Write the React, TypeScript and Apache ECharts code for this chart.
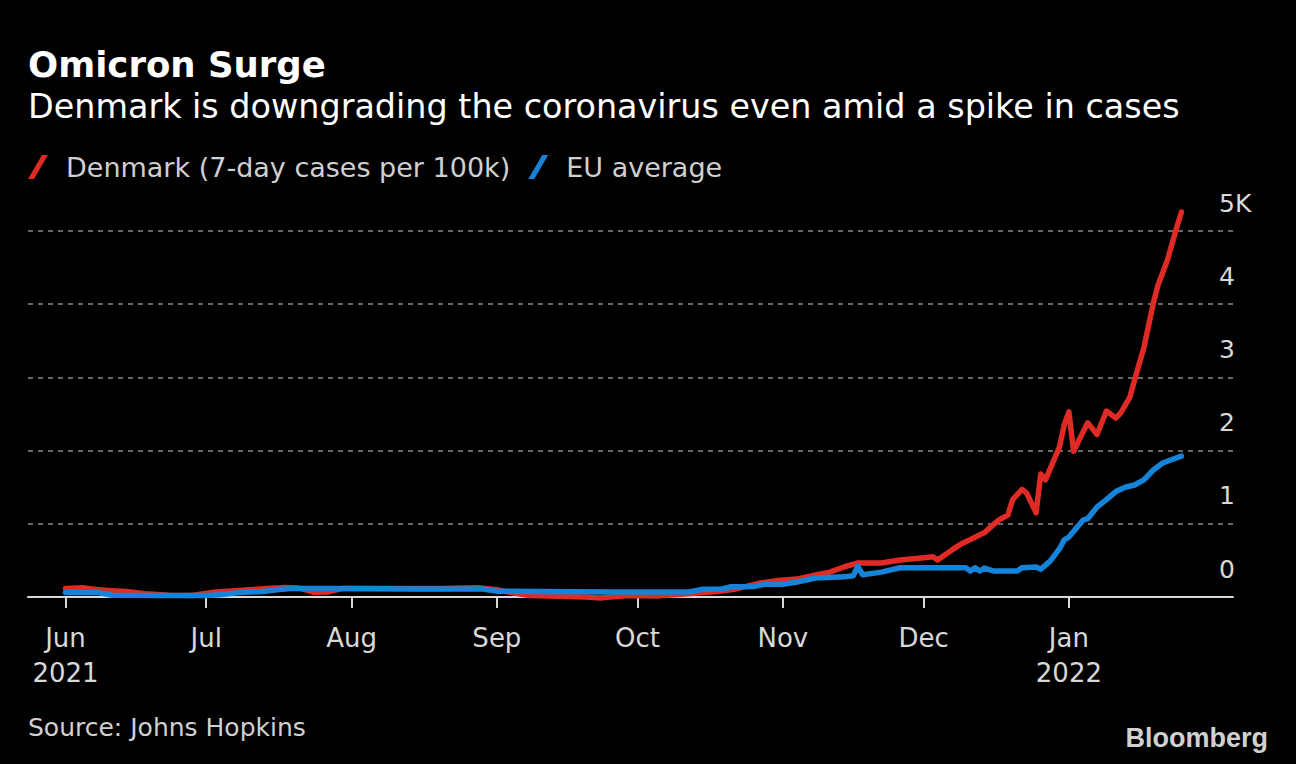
import React, { useEffect, useRef } from "react";
import * as echarts from "echarts";

const startDate = Date.UTC(2021, 4, 24);
const endDate = Date.UTC(2022, 1, 5);
const monthNames = ["Jan", "Feb", "Mar", "Apr", "May", "Jun", "Jul", "Aug", "Sep", "Oct", "Nov", "Dec"];

const pad = (n: number) => (n < 10 ? "0" + n : "" + n);
const categories: string[] = [];
for (let t = startDate; t <= endDate; t += 86400000) {
  const d = new Date(t);
  categories.push(d.getUTCFullYear() + "-" + pad(d.getUTCMonth() + 1) + "-" + pad(d.getUTCDate()));
}

const denmarkDates = [
  "2021-06-01", "2021-06-05", "2021-06-07", "2021-06-10", "2021-06-14", "2021-06-18", "2021-06-23", "2021-06-28",
  "2021-07-03", "2021-07-08", "2021-07-14", "2021-07-18", "2021-07-21", "2021-07-24", "2021-07-27", "2021-07-30",
  "2021-08-10", "2021-08-20", "2021-08-28", "2021-09-01", "2021-09-05", "2021-09-08", "2021-09-14", "2021-09-20",
  "2021-09-23", "2021-09-26", "2021-09-29", "2021-10-05", "2021-10-11", "2021-10-15", "2021-10-18", "2021-10-22",
  "2021-10-27", "2021-10-31", "2021-11-04", "2021-11-08", "2021-11-11", "2021-11-14", "2021-11-17", "2021-11-22",
  "2021-11-26", "2021-11-30", "2021-12-03", "2021-12-04", "2021-12-07", "2021-12-09", "2021-12-11", "2021-12-14",
  "2021-12-17", "2021-12-19", "2021-12-20", "2021-12-22", "2021-12-23", "2021-12-25", "2021-12-26", "2021-12-27",
  "2021-12-30", "2021-12-31", "2022-01-01", "2022-01-02", "2022-01-04", "2022-01-05", "2022-01-07", "2022-01-09",
  "2022-01-11", "2022-01-12", "2022-01-14", "2022-01-15", "2022-01-17", "2022-01-19", "2022-01-20", "2022-01-22",
  "2022-01-24", "2022-01-25",
];
const denmarkValues = [
  115, 125, 105, 90, 75, 45, 25, 20,
  70, 90, 115, 130, 120, 65, 70, 115,
  115, 115, 125, 100, 50, 20, 10, 0,
  -15, 5, 20, 15, 40, 60, 75, 110,
  190, 225, 245, 300, 340, 410, 465, 465,
  505, 530, 550, 505, 640, 725, 785, 880,
  1050, 1120, 1330, 1470, 1420, 1150, 1680, 1600,
  2050, 2350, 2530, 1990, 2250, 2380, 2220, 2540,
  2445, 2510, 2730, 2960, 3410, 4010, 4260, 4600,
  5050, 5260,
];

const euDates = [
  "2021-06-01", "2021-06-08", "2021-06-11", "2021-06-20", "2021-07-01", "2021-07-04", "2021-07-08", "2021-07-13",
  "2021-07-16", "2021-07-19", "2021-08-01", "2021-08-15", "2021-08-29", "2021-09-01", "2021-09-10", "2021-09-25",
  "2021-10-12", "2021-10-15", "2021-10-19", "2021-10-21", "2021-10-26", "2021-10-28", "2021-11-01", "2021-11-04",
  "2021-11-08", "2021-11-14", "2021-11-16", "2021-11-17", "2021-11-18", "2021-11-22", "2021-11-26", "2021-12-10",
  "2021-12-11", "2021-12-12", "2021-12-13", "2021-12-14", "2021-12-16", "2021-12-21", "2021-12-22", "2021-12-25",
  "2021-12-26", "2021-12-28", "2021-12-30", "2021-12-31", "2022-01-01", "2022-01-04", "2022-01-05", "2022-01-07",
  "2022-01-09", "2022-01-11", "2022-01-13", "2022-01-15", "2022-01-17", "2022-01-19", "2022-01-21", "2022-01-25",
];
const euValues = [
  60, 60, 25, 20, 20, 30, 60, 75,
  100, 115, 115, 110, 110, 80, 75, 70,
  70, 105, 110, 140, 145, 175, 175, 205,
  260, 275, 290, 420, 305, 340, 400, 400,
  355, 400, 355, 395, 355, 355, 400, 410,
  380, 490, 660, 780, 820, 1050, 1070, 1230,
  1330, 1440, 1500, 1530, 1600, 1735, 1830, 1925,
];

const yTicks = [0, 1000, 2000, 3000, 4000, 5000];
const yTickLabels = ["0", "1", "2", "3", "4", "5K"];

const seriesNames = ["Denmark (7-day cases per 100k)", "EU average"];
const seriesColors = ["#e02a26", "#1584d8"];

const FONT = "DejaVu Sans";

export default function App() {
  const ref = useRef<HTMLDivElement>(null);
  useEffect(() => {
    if (!ref.current) return;
    const chart = echarts.init(ref.current, undefined, { renderer: "svg" });
    const isMonthStart = (_i: number, v: string) => v.slice(8) === "01" && v.slice(5, 7) !== "02";
    const option: any = {
      animation: false,
      backgroundColor: "#000000",
      title: [
        {
          text: "Omicron Surge",
          left: 28,
          top: 44,
          padding: 0,
          textStyle: { color: "#ffffff", fontFamily: FONT, fontWeight: "bold", fontSize: 35.5, lineHeight: 40 },
        },
        {
          text: "Denmark is downgrading the coronavirus even amid a spike in cases",
          left: 28,
          top: 88,
          padding: 0,
          textStyle: { color: "#ffffff", fontFamily: FONT, fontWeight: "normal", fontSize: 33.4, lineHeight: 36 },
        },
        {
          text: "Source: Johns Hopkins",
          left: 28,
          top: 713,
          padding: 0,
          textStyle: { color: "#d0d0d0", fontFamily: FONT, fontWeight: "normal", fontSize: 25, lineHeight: 28 },
        },
        {
          text: "Bloomberg",
          right: 28,
          top: 723,
          padding: 0,
          textStyle: { color: "#d0d0d0", fontFamily: "Liberation Sans", fontWeight: "bold", fontSize: 27, lineHeight: 30 },
        },
      ],
      legend: {
        left: 28,
        top: 153,
        padding: 0,
        itemWidth: 20,
        itemHeight: 24,
        itemGap: 18,
        icon: "path://M14,0 L20,0 L6,24 L0,24 Z",
        data: seriesNames,
        textStyle: { color: "#cfcfcf", fontFamily: FONT, fontSize: 27, lineHeight: 28, padding: [0, 0, 0, 13] },
      },
      grid: { left: 28, right: 63, top: 231, bottom: 167, containLabel: false },
      xAxis: {
        type: "category",
        data: categories,
        boundaryGap: false,
        axisLine: { show: true, lineStyle: { color: "#d8d8d8", width: 2 } },
        axisTick: { show: true, interval: isMonthStart, length: 11, lineStyle: { color: "#d8d8d8", width: 2 } },
        axisLabel: {
          interval: isMonthStart,
          margin: 23,
          color: "#d8d8d8",
          fontFamily: FONT,
          fontSize: 26,
          lineHeight: 35,
          formatter: (v: string) => {
            const y = +v.slice(0, 4);
            const m = +v.slice(5, 7) - 1;
            if (m === 0 || (y === 2021 && m === 5)) return monthNames[m] + "\n" + y;
            return monthNames[m];
          },
        },
        splitLine: { show: false },
      },
      yAxis: {
        type: "value",
        position: "right",
        min: 0,
        max: 5000,
        interval: 1000,
        axisLine: { show: false },
        axisTick: { show: false },
        splitLine: { show: true, lineStyle: { color: "#8a8a8a", width: 1.5, type: [5, 5] } },
        axisLabel: {
          inside: true,
          margin: 14,
          align: "left",
          verticalAlign: "bottom",
          color: "#d8d8d8",
          fontFamily: FONT,
          fontSize: 25,
          lineHeight: 26,
          padding: [0, 0, 15, 0],
          formatter: (v: number) => {
            const i = yTicks.indexOf(v);
            return i >= 0 ? yTickLabels[i] : "";
          },
        },
      },
      series: [
        {
          name: seriesNames[0],
          type: "line",
          clip: false,
          showSymbol: false,
          color: seriesColors[0],
          lineStyle: { color: seriesColors[0], width: 5.5, join: "round", cap: "round" },
          data: denmarkDates.map((d, i) => [d, denmarkValues[i]]),
          z: 2,
        },
        {
          name: seriesNames[1],
          type: "line",
          clip: false,
          showSymbol: false,
          color: seriesColors[1],
          lineStyle: { color: seriesColors[1], width: 5.5, join: "round", cap: "round" },
          data: euDates.map((d, i) => [d, euValues[i]]),
          z: 3,
        },
      ],
    };
    chart.setOption(option);
    return () => chart.dispose();
  }, []);
  return (
    <div
      ref={ref}
      style={{ position: "fixed", left: 0, top: 0, width: 1296, height: 764, background: "#000" }}
    />
  );
}
